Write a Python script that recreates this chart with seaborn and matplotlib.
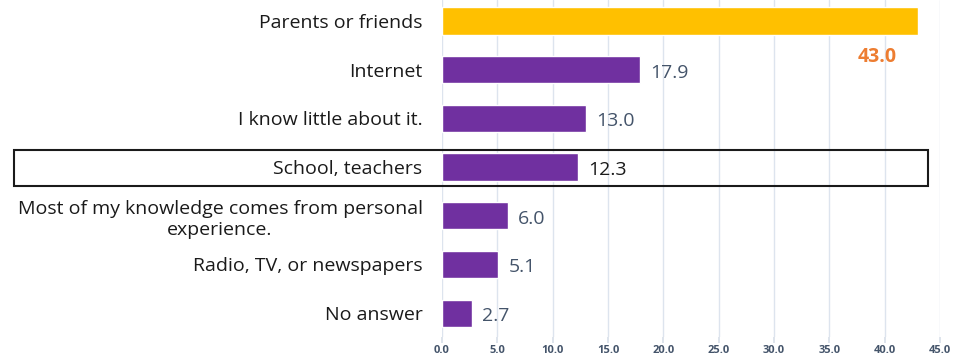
import matplotlib
matplotlib.use("Agg")
import matplotlib.pyplot as plt
import seaborn as sns
import pandas as pd
from matplotlib.patches import Rectangle

categories = ["Parents or friends", "Internet", "I know little about it.",
              "School, teachers",
              "Most of my knowledge comes from personal\nexperience.",
              "Radio, TV, or newspapers", "No answer"]
values = [43.0, 17.9, 13.0, 12.3, 6.0, 5.1, 2.7]
value_labels = ["43.0", "17.9", "13.0", "12.3", "6.0", "5.1", "2.7"]
xticks = [0, 5, 10, 15, 20, 25, 30, 35, 40, 45]

purple = "#7030A0"
yellow = "#FFC000"
colors = [yellow] + [purple] * (len(values) - 1)

sns.set_theme(style="white")
plt.rcParams['font.family'] = ['Open Sans', 'DejaVu Sans']

df = pd.DataFrame({"cat": categories, "val": values})
fig = plt.figure(figsize=(9.57, 3.56), dpi=100)
ax = fig.add_axes([442/957, 19/356, 498/957, 337/356])
sns.barplot(data=df, y="cat", x="val", hue="cat", palette=colors, legend=False,
            orient="h", width=0.56, ax=ax, saturation=1, zorder=3)

ax.set_xlim(0, 45)
ax.set_ylim(6.49, -0.43)
ax.set_xticks(xticks)
ax.set_xticklabels([f"{t:.1f}" for t in xticks], fontsize=8, color="#44546A", fontweight="bold")
ax.tick_params(axis="x", length=4, color="#D9E1EA", pad=2)
ax.tick_params(axis="y", length=0, pad=14)
for lab in ax.get_yticklabels():
    lab.set_fontsize(14)
    lab.set_color("#1a1a1a")
    lab.set_horizontalalignment("right")
    lab.set_multialignment("center")
ax.set_xlabel("")
ax.set_ylabel("")
ax.xaxis.grid(True, color="#DDE4EE", linewidth=1, zorder=0)
ax.yaxis.grid(False)
for s in ax.spines.values():
    s.set_visible(False)
ax.xaxis.tick_bottom()

for i, (v, lab) in enumerate(zip(values, value_labels)):
    if i == 0:
        ax.text(v - 3.7, i + 0.74, lab, ha="center", va="center", fontsize=14,
                color="#ED7D31", fontweight="bold")
    elif categories[i] == "School, teachers":
        ax.text(v + 0.9, i + 0.06, lab, ha="left", va="center", fontsize=14,
                color="#1a1a1a")
    else:
        ax.text(v + 0.9, i + 0.06, lab, ha="left", va="center", fontsize=14,
                color="#44546A")

box = Rectangle((14/957, 1 - 186/356), (928 - 14)/957, 36/356, transform=fig.transFigure,
                fill=False, edgecolor="#1a1a1a", linewidth=1.5, zorder=10)
fig.patches.append(box)

fig.savefig("out.png", dpi=100)
